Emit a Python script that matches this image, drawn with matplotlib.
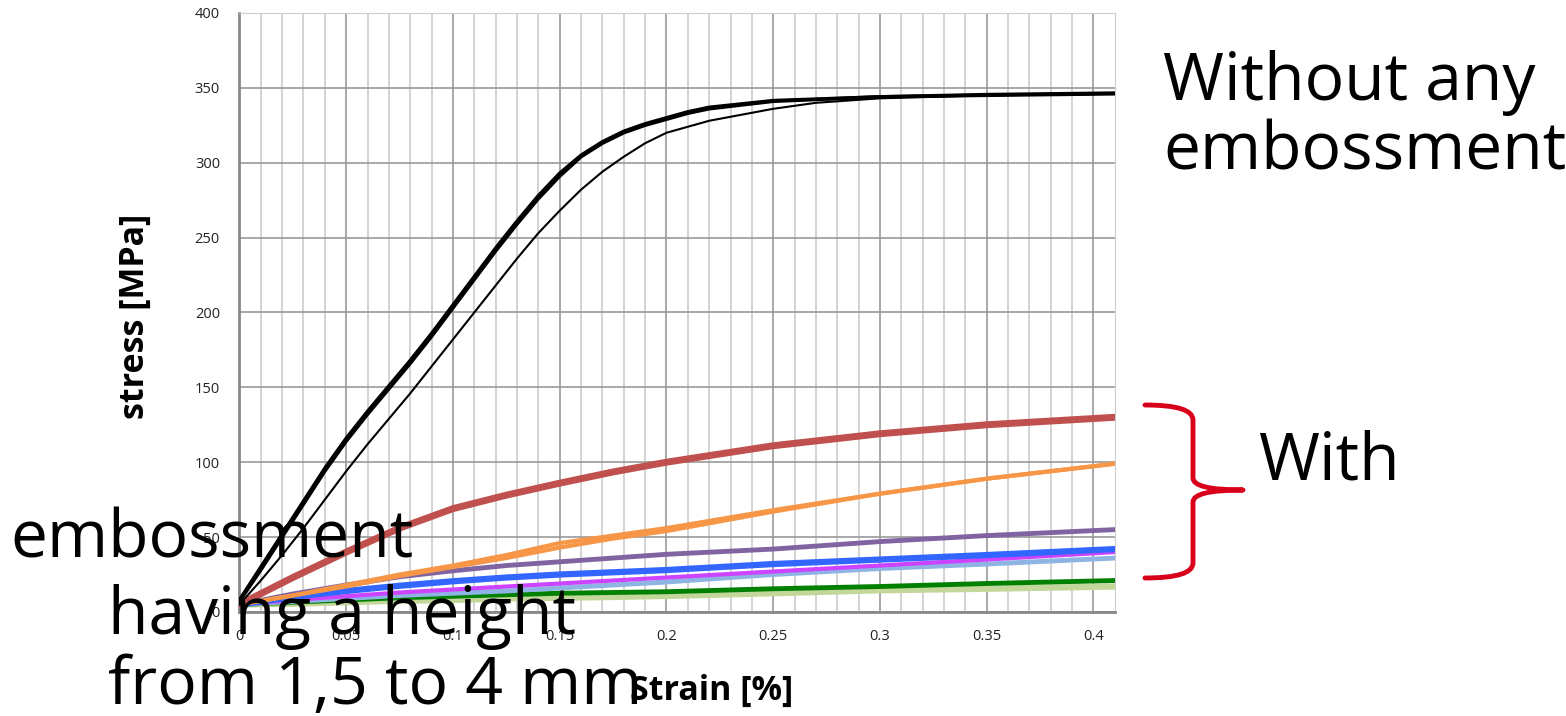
# Stress-strain curves: without embossment vs with embossment

import numpy as np
import matplotlib.pyplot as plt
from matplotlib.path import Path
from matplotlib.patches import PathPatch

# Without any embossment (black)
strain_black = [0, 0.01, 0.02, 0.03, 0.04, 0.05, 0.06, 0.07, 0.08, 0.09, 0.1, 0.11, 0.12, 0.13,
                0.14, 0.15, 0.16, 0.17, 0.18, 0.19, 0.2, 0.21, 0.22, 0.25, 0.3, 0.35, 0.41]
stress_black_a = [8, 30, 52, 74, 96, 116, 134, 151, 168, 186, 205, 224, 243, 261,
                  278, 293, 305, 314, 321, 326, 330, 334, 337, 341.5, 344, 345, 346]
stress_black_b = [7, 28, 50, 72, 94, 114, 132, 149, 166, 184, 203, 222, 241, 259,
                  276, 291, 304, 313, 320, 325, 329, 333, 336, 341, 344, 345.5, 346.5]
strain_thin = [0, 0.01, 0.02, 0.03, 0.04, 0.05, 0.06, 0.07, 0.08, 0.09, 0.1, 0.11, 0.12, 0.13,
               0.14, 0.15, 0.16, 0.17, 0.18, 0.19, 0.2, 0.22, 0.25, 0.27, 0.3, 0.35, 0.41]
stress_thin = [5, 21, 38, 56, 75, 94, 112, 129, 146, 164, 182, 200, 218, 236,
               253, 268, 282, 294, 304, 313, 320, 328, 336, 340, 343, 345, 346]

# With embossment (colored)
strain_col = [0, 0.025, 0.05, 0.075, 0.1, 0.125, 0.15, 0.175, 0.2, 0.25, 0.3, 0.35, 0.41]
stress_red = [5, 23, 40, 56, 69, 78, 86, 93.5, 100, 111, 119, 125, 130]
stress_orange_a = [5, 11, 18, 25, 31, 38, 46, 51, 56, 68, 79, 89, 99]
stress_orange_b = [5, 11, 17, 24, 30, 36, 43, 49, 54, 67, 79, 89, 99]
stress_purple = [5, 12, 18, 23.5, 27.5, 31, 33.5, 36, 38.5, 42, 47, 51, 55]
stress_blue = [5, 10, 14, 17.5, 20.5, 23, 25, 26.5, 28, 32, 35, 38, 42]
stress_magenta = [5, 8, 10.5, 13, 15, 17, 19, 21, 23, 27, 31, 35, 40]
stress_lightblue = [5, 7, 9, 11, 12.5, 14, 16, 18, 20, 25, 29, 32, 36]
stress_green = [5, 6.5, 8, 9.5, 10.5, 11.5, 12.5, 13, 13.5, 15.5, 17, 19, 21]
stress_lightgreen = [5, 5.5, 6.5, 7.5, 8, 9, 9.5, 10, 10.7, 12.5, 14.5, 15.5, 17]

x_ticks = [0, 0.05, 0.1, 0.15, 0.2, 0.25, 0.3, 0.35, 0.4]
x_tick_labels = ["0", "0.05", "0.1", "0.15", "0.2", "0.25", "0.3", "0.35", "0.4"]
y_ticks = [0, 50, 100, 150, 200, 250, 300, 350, 400]

plt.rcParams["font.family"] = ["Open Sans", "DejaVu Sans"]

fig = plt.figure(figsize=(15.66, 7.16), dpi=100)
ax = fig.add_axes([0.1529, 0.1453, 0.559, 0.8366])

# colored curves
ax.plot(strain_col, stress_lightgreen, color="#c4d79b", lw=4.5, zorder=3)
ax.plot(strain_col, stress_green, color="#008000", lw=3.5, zorder=3)
ax.plot(strain_col, stress_lightblue, color="#8db4e2", lw=3.5, zorder=3)
ax.plot(strain_col, stress_magenta, color="#cc44ff", lw=3, zorder=3)
ax.plot(strain_col, stress_blue, color="#3366ff", lw=4.5, zorder=3)
ax.plot(strain_col, stress_purple, color="#8064a2", lw=3.5, zorder=3)
ax.plot(strain_col, stress_orange_a, color="#f79646", lw=3, zorder=3)
ax.plot(strain_col, stress_orange_b, color="#f79646", lw=3, zorder=3)
ax.plot(strain_col, stress_red, color="#c0504d", lw=5, zorder=3)

# black curves
ax.plot(strain_black, stress_black_a, color="black", lw=2.5, zorder=4)
ax.plot(strain_black, stress_black_b, color="black", lw=2.5, zorder=4)
ax.plot(strain_thin, stress_thin, color="black", lw=1.5, zorder=4)

ax.set_xlim(0, 0.41)
ax.set_ylim(0, 400)
ax.set_xticks(x_ticks)
ax.set_xticklabels(x_tick_labels)
ax.set_xticks(np.arange(0, 0.41, 0.01), minor=True)
ax.set_yticks(y_ticks)
ax.grid(True, which="major", color="#999999", lw=1.2)
ax.grid(True, which="minor", axis="x", color="#cccccc", lw=1.2)
ax.set_axisbelow(True)
ax.tick_params(axis="both", which="both", length=0, labelsize=10.5, colors="#222222")
ax.tick_params(axis="x", pad=12)
ax.tick_params(axis="y", pad=14)
for side in ["top", "right"]:
    ax.spines[side].set_color("#cccccc")
for side in ["left", "bottom"]:
    ax.spines[side].set_color("#888888")
    ax.spines[side].set_linewidth(2)

ax.set_ylabel("stress [MPa]", fontsize=24.5, fontweight="bold")
ax.set_xlabel("Strain [%]", fontsize=24.5, fontweight="bold")
ax.yaxis.set_label_coords(-0.100, 0.493)
ax.xaxis.set_label_coords(0.539, -0.103)

# red brace
W, H = 1566, 716
def px(x, y):
    return (x / W, 1 - y / H)

verts = [px(1145, 405), px(1193, 405), px(1193, 420),
         px(1193, 478),
         px(1193, 490), px(1243, 490),
         px(1193, 490), px(1193, 502),
         px(1193, 563),
         px(1193, 578), px(1145, 578)]
codes = [Path.MOVETO, Path.CURVE3, Path.CURVE3,
         Path.LINETO,
         Path.CURVE3, Path.CURVE3,
         Path.CURVE3, Path.CURVE3,
         Path.LINETO,
         Path.CURVE3, Path.CURVE3]
brace = PathPatch(Path(verts, codes), transform=fig.transFigure, fill=False,
                  edgecolor="#d9001b", lw=3.5, capstyle="round", joinstyle="round")
fig.patches.append(brace)

# annotations
big = 47.5
fig.text(1163 / W, 1 - 100 / H, "Without any", fontsize=big, zorder=10)
fig.text(1163 / W, 1 - 169 / H, "embossment", fontsize=big, zorder=10)
fig.text(1258 / W, 1 - 480 / H, "With", fontsize=big, zorder=10)
fig.text(10 / W, 1 - 558 / H, "embossment", fontsize=big, zorder=10)
fig.text(108 / W, 1 - 634 / H, "having a height", fontsize=big, zorder=10)
fig.text(108 / W, 1 - 704 / H, "from 1,5 to 4 mm", fontsize=big, zorder=10)

fig.savefig("out.png", dpi=100)
